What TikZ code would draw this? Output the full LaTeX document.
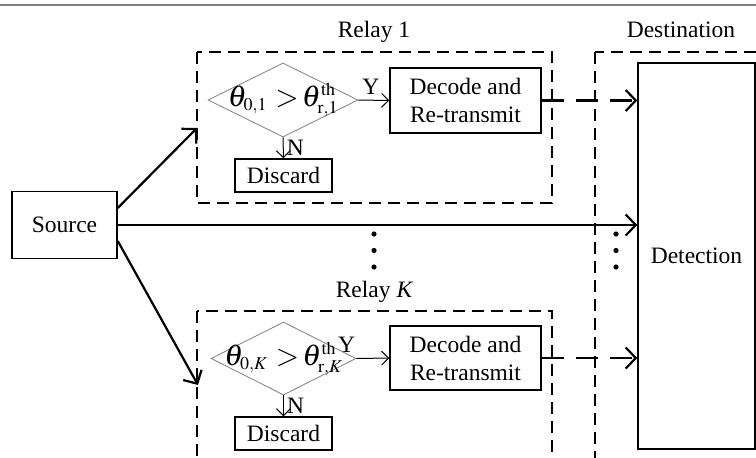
\documentclass[tikz,border=0pt]{standalone}
\usepackage{mathptmx}
\usepackage{fontspec}
\setmainfont{Liberation Serif}
\usetikzlibrary{shapes.geometric,arrows.meta}

\newcommand{\tcomp}[1]{$\theta_{\scriptscriptstyle 0,#1}\mkern5mu{>}\mkern2mu
    \theta^{\scriptscriptstyle\mathrm{th}}_{\scriptscriptstyle\mathrm{r},#1}$}

\begin{document}
\begin{tikzpicture}[x=1pt,y=-1pt,
    every node/.style={font=\fontsize{23.5}{28}\selectfont},
    blk/.style={draw,line width=1.5pt,inner sep=0pt},
    dia/.style={diamond,draw=gray,line width=0.8pt,inner sep=0pt},
    cmp/.style={font=\fontsize{30}{32}\selectfont,inner sep=0pt},
    grp/.style={draw,line width=1.4pt,dash pattern=on 12pt off 7pt},
    link/.style={line width=2.2pt,-{Straight Barb[length=10pt,width=21pt]}},
    relink/.style={link,dash pattern=on 22pt off 12pt},
    flow/.style={line width=1pt,-{Straight Barb[length=7pt,width=14pt]}},
    yn/.style={inner sep=1pt}]
    \useasboundingbox (0,0) rectangle (756,458);
    \clip (0,0) rectangle (756,458);
    \draw[gray,line width=2pt] (0,4.5) -- (756,4.5);

    \draw[grp] (197,52) rectangle (552,203);
    \draw[grp] (197,311) rectangle (552,470);
    \draw[grp] (595,52) rectangle (780,470);
    \node[anchor=base] (relay1) at (374,37.5) {Relay 1};
    \node[anchor=base] (relayK) at (374.5,297) {Relay \textit{K}};
    \node[anchor=base] (dest) at (681,37.5) {Destination};

    \node[blk,minimum width=105pt,minimum height=67pt] (src) at (64.5,225) {Source};
    \node[blk,minimum width=117pt,minimum height=386pt] (det) at (696.5,256) {Detection};

    \node[dia,minimum width=150pt,minimum height=74pt] (dia1) at (283,100) {};
    \node[cmp] (cmp1) at (283,100) {\tcomp{1}};
    \node[blk,minimum width=151pt,minimum height=65pt,align=center] (dec1) at (465.5,100.5) {Decode and\\Re-transmit};
    \node[blk,minimum width=97pt,minimum height=33pt] (dis1) at (283.5,175.5) {Discard};

    \node[dia,minimum width=145pt,minimum height=73pt] (diaK) at (283.5,358.5) {};
    \node[cmp] (cmpK) at (283.5,359) {\tcomp{\mathit{K}}};
    \node[blk,minimum width=151pt,minimum height=64pt,align=center] (decK) at (465.5,358) {Decode and\\Re-transmit};
    \node[blk,minimum width=97pt,minimum height=33pt] (disK) at (283.5,433.5) {Discard};

    \coordinate (in1) at (197,128);
    \coordinate (inK) at (198,385);
    \draw[link] ([yshift=17pt]src.east) -- (in1);
    \draw[link] ([yshift=-16pt]src.east) -- (inK);
    \draw[link] (src.east) -- (src.east -| det.west);

    \draw[flow] (dia1.east) -- node[yn,above=4pt,pos=0.4] {Y} (dec1.west);
    \draw[flow] (dia1.south) -- node[yn,right=2pt] {N} (dis1.north);
    \draw[flow] (diaK.east) -- node[yn,above=5pt,pos=-0.3] {Y} (decK.west);
    \draw[flow] (diaK.south) -- node[yn,right=2pt] {N} (disK.north);

    \draw[relink] (dec1.east) -- (dec1.east -| det.west);
    \draw[relink] (decK.east) -- (decK.east -| det.west);

    \foreach \y in {234,250.5,267} {
        \fill (374,\y) circle (2.6);
        \fill (616,\y) circle (2.6);
    }
\end{tikzpicture}
\end{document}
